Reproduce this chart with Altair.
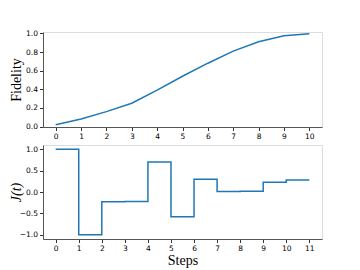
import altair as alt
import pandas as pd

steps_top = [0, 1, 2, 3, 4, 5, 6, 7, 8, 9, 10]
fidelity = [0.02, 0.08, 0.16, 0.25, 0.39, 0.54, 0.68, 0.81, 0.91, 0.975, 0.995]

steps_bot = [0, 1, 2, 3, 4, 5, 6, 7, 8, 9, 10, 11]
jvals = [1.0, -1.0, -0.23, -0.22, 0.70, -0.58, 0.30, 0.01, 0.02, 0.23, 0.28, 0.28]

df_top = pd.DataFrame({"step": steps_top, "fid": fidelity})
df_bot = pd.DataFrame({"step": steps_bot, "J": jvals})

C0 = "#1f77b4"
W = 279

axis_common = dict(
    labelFont="DejaVu Sans", labelFontSize=7.5, labelColor="#000",
    tickColor="#333", tickSize=3.5, domainColor="#555", domainWidth=1,
    grid=False, titleFont="Liberation Serif", titleFontSize=14,
    titleColor="#000", titleFontWeight="normal", labelPadding=2,
)

top = alt.Chart(df_top).mark_line(color=C0, strokeWidth=1.5, clip=True).encode(
    x=alt.X("step:Q", scale=alt.Scale(domain=[-0.5, 10.5], nice=False, zero=False),
            axis=alt.Axis(values=steps_top, format="d", title=None, **axis_common)),
    y=alt.Y("fid:Q", scale=alt.Scale(domain=[-0.005, 1.015], nice=False, zero=False),
            axis=alt.Axis(values=[0, 0.2, 0.4, 0.6, 0.8, 1.0], format=".1f",
                          title="Fidelity", titleX=-20, **axis_common)),
).properties(width=W, height=95)

bot = alt.Chart(df_bot).mark_line(color=C0, strokeWidth=1.5, interpolate="step-after", clip=True).encode(
    x=alt.X("step:Q", scale=alt.Scale(domain=[-0.55, 11.55], nice=False, zero=False),
            axis=alt.Axis(values=steps_bot, format="d", title="Steps", titlePadding=1, **axis_common)),
    y=alt.Y("J:Q", scale=alt.Scale(domain=[-1.1, 1.1], nice=False, zero=False),
            axis=alt.Axis(values=[-1.0, -0.5, 0.0, 0.5, 1.0], format=".1f",
                          title="J(t)", titleFontStyle="italic", titleX=-20, **axis_common)),
).properties(width=W, height=94)

chart = alt.vconcat(top, bot, spacing=3).properties(
    padding={"left": 0, "top": 20, "right": 5, "bottom": 5}
).configure_view(stroke="#555", strokeWidth=1).configure(background="white")

chart.save("out.html", embed_options={"renderer": "svg", "actions": False})
